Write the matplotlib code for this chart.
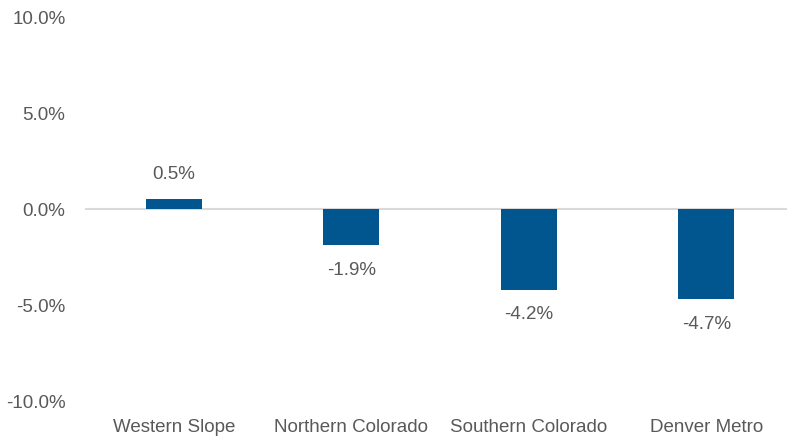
import matplotlib.pyplot as plt
from matplotlib.ticker import FuncFormatter

regions = ['Western Slope', 'Northern Colorado', 'Southern Colorado', 'Denver Metro']
change = [0.5, -1.9, -4.2, -4.7]

bar_color = '#01568F'
text_color = '#595959'

plt.rcParams['font.family'] = ['Liberation Sans', 'DejaVu Sans']

fig = plt.figure(figsize=(7.88, 4.4), dpi=100)
ax = fig.add_axes([85 / 788, 1 - 401 / 440, (787 - 85) / 788, (401 - 17) / 440])

x = range(len(regions))
bars = ax.bar(x, change, width=0.315, color=bar_color, zorder=3)

for xi, v in zip(x, change):
    off = 18 if v >= 0 else -18
    ax.annotate(f'{v:.1f}%', (xi, v), xytext=(0, off), textcoords='offset points',
                ha='center', va='center', fontsize=13.5, color=text_color)

ax.axhline(0, color='#D9D9D9', linewidth=1.5, zorder=2)
ax.set_ylim(-10, 10)
ax.set_xlim(-0.5, 3.455)
ax.set_yticks([-10, -5, 0, 5, 10])
ax.yaxis.set_major_formatter(FuncFormatter(lambda v, p: f'{v:.1f}%'))
ax.set_xticks(list(x))
ax.set_xticklabels(regions)
ax.tick_params(axis='both', length=0, labelsize=13.5, labelcolor=text_color)
ax.tick_params(axis='y', pad=14)
ax.tick_params(axis='x', pad=13)
for s in ax.spines.values():
    s.set_visible(False)

fig.savefig('out.png', dpi=100)
